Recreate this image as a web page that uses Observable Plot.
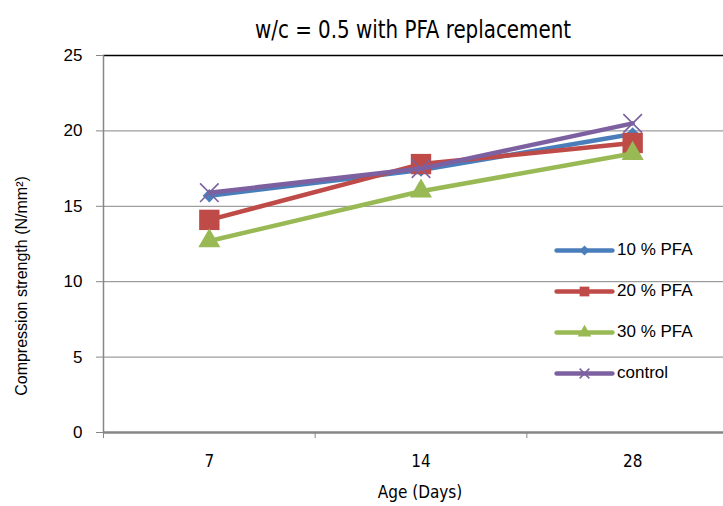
<!DOCTYPE html>
<html>
<head>
<meta charset="utf-8">
<script src="https://cdn.jsdelivr.net/npm/d3@7"></script>
<script src="https://cdn.jsdelivr.net/npm/@observablehq/plot@0.6"></script>
<style>
  html, body { margin: 0; padding: 0; background: #fff; overflow: hidden; }
  #wrap { position: relative; width: 723px; height: 506px; overflow: hidden; }
  #title { position: absolute; left: 413px; top: 16px; transform: translateX(-50%) scaleX(0.92);
    white-space: nowrap;
    font-family: "Liberation Sans Narrow", "DejaVu Sans Condensed", "DejaVu Sans", sans-serif;
    font-size: 24px; color: #000; }
  #legend { position: absolute; left: 554px; top: 229px;
    font-family: "Liberation Sans", Arial, sans-serif; font-size: 17px; color: #000; }
  .li { display: flex; align-items: center; height: 41px; }
  .li svg { margin-right: 3px; }
  #ylab { position: absolute; left: 22px; top: 286px; transform: translate(-50%, -50%) rotate(-90deg);
    white-space: nowrap; font-family: "Liberation Sans", Arial, sans-serif; font-size: 16px; }
  #xlab { position: absolute; left: 420px; top: 482px; transform: translateX(-50%);
    white-space: nowrap; font-family: "Liberation Sans Narrow", "DejaVu Sans Condensed", "DejaVu Sans", sans-serif; font-size: 17px; }
</style>
</head>
<body>
<div id="wrap">
  <div id="title">w/c = 0.5 with PFA replacement</div>
  <div id="ylab">Compression strength (N/mm²)</div>
  <div id="xlab">Age (Days)</div>
  <div id="legend"></div>
</div>
<script>
const ages = ["7", "14", "28"];
const pfa10 = [15.7, 17.4, 19.8];
const pfa20 = [14.1, 17.8, 19.2];
const pfa30 = [12.7, 16.0, 18.5];
const control = [15.9, 17.5, 20.5];
const seriesNames = ["10 % PFA", "20 % PFA", "30 % PFA", "control"];
const seriesColors = ["#4A7EBB", "#BE4B48", "#98B954", "#7D60A0"];
const seriesSymbols = ["diamond2", "square", "triangle", "times"];
const yTicks = [0, 5, 10, 15, 20, 25];

const seriesValues = [pfa10, pfa20, pfa30, control];
const markerR = [6, 11.5, 8.2, 8.5];

const marks = [
  Plot.ruleY([5, 10, 15, 20], {stroke: "#868686", strokeWidth: 1}),
  Plot.ruleY([25], {stroke: "#000", strokeWidth: 1.5}),
  Plot.axisY({ticks: yTicks, tickSize: 7, stroke: "#868686", tickPadding: 14, fontSize: 17,
    fontFamily: "Liberation Sans, Arial, sans-serif", label: null, color: "#000"}),
  Plot.axisX({ticks: [0, 1, 2], tickFormat: i => ages[i], tickSize: 0, tickPadding: 22, fontSize: 17,
    fontFamily: "Liberation Sans Narrow, DejaVu Sans Condensed, DejaVu Sans, sans-serif", label: null}),
  Plot.axisX({ticks: [-0.5, 0.5, 1.5, 2.5], tickFormat: () => "", tickSize: 6, stroke: "#868686", label: null}),
  Plot.ruleX([-0.5], {stroke: "#868686", strokeWidth: 1.5}),
  Plot.ruleY([0], {stroke: "#868686", strokeWidth: 2.5})
];

seriesNames.forEach((name, j) => {
  const data = ages.map((a, i) => ({i, age: a, value: seriesValues[j][i]}));
  marks.push(Plot.line(data, {x: "i", y: "value", stroke: seriesColors[j], strokeWidth: 4.5,
    strokeLinecap: "round", strokeLinejoin: "round"}));
  if (seriesSymbols[j] === "times") {
    marks.push(Plot.dot(data, {x: "i", y: "value", symbol: "times", r: markerR[j], stroke: seriesColors[j], strokeWidth: 1.6}));
  } else {
    marks.push(Plot.dot(data, {x: "i", y: "value", symbol: seriesSymbols[j], r: markerR[j], fill: seriesColors[j], stroke: "none"}));
  }
});

const chart = Plot.plot({
  width: 723,
  height: 506,
  marginLeft: 103,
  marginRight: -15,
  marginTop: 55,
  marginBottom: 74,
  style: {background: "transparent", overflow: "visible"},
  x: {type: "linear", domain: [-0.5, 2.5]},
  y: {domain: [0, 25]},
  marks
});
chart.style.position = "absolute";
chart.style.left = "0";
chart.style.top = "0";
document.getElementById("wrap").prepend(chart);

// legend
const legend = document.getElementById("legend");
const legendR = [4.5, 5.5, 5, 4.5];
seriesNames.forEach((name, j) => {
  const row = document.createElement("div");
  row.className = "li";
  const sw = Plot.plot({
    width: 60, height: 14, margin: 0,
    x: {domain: [0, 2], axis: null}, y: {domain: [0, 1], axis: null},
    style: {background: "transparent", overflow: "visible"},
    marks: [
      Plot.line([{x: 0.07, y: 0.5}, {x: 1.93, y: 0.5}], {x: "x", y: "y", stroke: seriesColors[j], strokeWidth: 4.5, strokeLinecap: "round"}),
      seriesSymbols[j] === "times"
        ? Plot.dot([{x: 1, y: 0.5}], {x: "x", y: "y", symbol: "times", r: legendR[j], stroke: seriesColors[j], strokeWidth: 1.5})
        : Plot.dot([{x: 1, y: 0.5}], {x: "x", y: "y", symbol: seriesSymbols[j], r: legendR[j], fill: seriesColors[j]})
    ]
  });
  row.appendChild(sw);
  const lab = document.createElement("span");
  lab.textContent = name;
  row.appendChild(lab);
  legend.appendChild(row);
});
</script>
</body>
</html>
